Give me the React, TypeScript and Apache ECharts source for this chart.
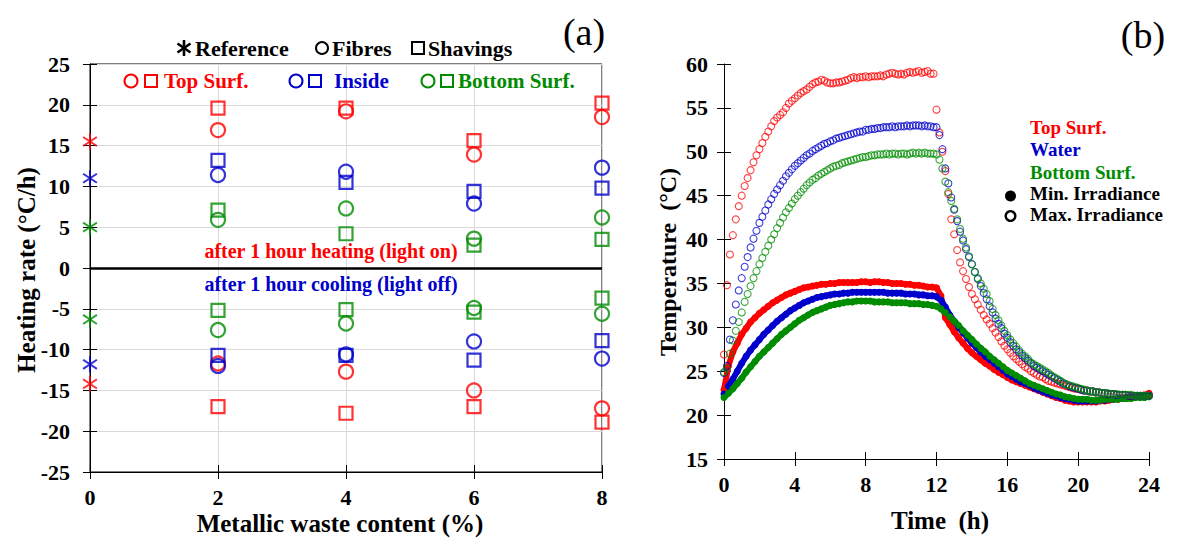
import React, { useEffect, useRef } from "react";
import * as echarts from "echarts";

const SERIF = "'Liberation Serif', 'Times New Roman', Times, serif";
const RED = "#ff0000";
const BLUE = "#0000cc";
const GREEN = "#008c00";

// ---------------- Panel (a): heating / cooling rates ----------------
const referenceContent = [0];
const wasteContent = [2, 4, 6, 8];
const xTicksA = [0, 2, 4, 6, 8];

const refTopHeating = [15.5];
const refInsideHeating = [11.0];
const refBottomHeating = [5.0];
const refTopCooling = [-14.2];
const refInsideCooling = [-11.8];
const refBottomCooling = [-6.3];

const fibresTopHeating = [16.9, 19.2, 13.9, 18.5];
const fibresInsideHeating = [11.4, 11.8, 7.9, 12.3];
const fibresBottomHeating = [5.9, 7.3, 3.6, 6.2];
const fibresTopCooling = [-11.7, -12.7, -15.0, -17.2];
const fibresInsideCooling = [-12.0, -10.6, -9.0, -11.1];
const fibresBottomCooling = [-7.6, -6.8, -4.9, -5.6];

const shavingsTopHeating = [19.6, 19.6, 15.6, 20.2];
const shavingsInsideHeating = [13.2, 10.5, 9.4, 9.8];
const shavingsBottomHeating = [7.1, 4.2, 2.8, 3.5];
const shavingsTopCooling = [-17.0, -17.8, -17.0, -18.9];
const shavingsInsideCooling = [-10.7, -10.7, -11.3, -8.9];
const shavingsBottomCooling = [-5.2, -5.1, -5.4, -3.7];

// ---------------- Panel (b): temperature vs time ----------------
const FILLED_STEP_H = 0.25; // min. irradiance sampling (h)
const HOLLOW_STEP_H = 1 / 6; // max. irradiance sampling (h)

const minTop = [
  22.9, 25.6, 27.2, 28.2, 29.2, 29.9, 30.6, 31.1, 31.6, 32.0,
  32.4, 32.8, 33.1, 33.4, 33.7, 33.9, 34.1, 34.3, 34.5, 34.6,
  34.7, 34.8, 34.9, 34.9, 35.0, 35.0, 35.1, 35.1, 35.1, 35.1,
  35.1, 35.2, 35.2, 35.1, 35.2, 35.2, 35.1, 35.1, 35.0, 35.0,
  35.0, 34.9, 34.9, 34.8, 34.8, 34.7, 34.6, 34.6, 34.5, 33.6,
  31.1, 30.3, 29.5, 28.8, 28.2, 27.6, 27.1, 26.7, 26.3, 25.9,
  25.6, 25.2, 24.9, 24.6, 24.3, 24.0, 23.8, 23.6, 23.4, 23.2,
  23.0, 22.8, 22.6, 22.4, 22.2, 22.0, 21.9, 21.7, 21.6, 21.5,
  21.5, 21.5, 21.5, 21.5, 21.5, 21.6, 21.6, 21.7, 21.8, 21.8,
  21.9, 22.0, 22.0, 22.1, 22.2, 22.3, 22.5,
];
const minWater = [
  22.4, 23.3, 24.1, 25.0, 25.9, 26.7, 27.4, 28.0, 28.6, 29.2,
  29.7, 30.2, 30.7, 31.1, 31.5, 31.9, 32.2, 32.5, 32.8, 33.0,
  33.2, 33.4, 33.5, 33.6, 33.7, 33.8, 33.8, 33.9, 33.9, 34.0,
  34.0, 34.0, 34.0, 34.0, 34.0, 34.0, 34.0, 33.9, 33.9, 33.9,
  33.9, 33.8, 33.8, 33.8, 33.7, 33.7, 33.6, 33.6, 33.5, 33.1,
  32.3, 31.4, 30.7, 30.0, 29.4, 28.8, 28.2, 27.7, 27.2, 26.7,
  26.3, 25.9, 25.5, 25.1, 24.7, 24.4, 24.1, 23.8, 23.6, 23.4,
  23.1, 22.9, 22.7, 22.5, 22.3, 22.2, 22.0, 21.9, 21.8, 21.7,
  21.6, 21.6, 21.6, 21.6, 21.6, 21.7, 21.7, 21.8, 21.8, 21.9,
  21.9, 22.0, 22.0, 22.1, 22.2, 22.2, 22.3,
];
const minBottom = [
  22.0, 22.5, 23.0, 23.6, 24.2, 24.9, 25.5, 26.1, 26.7, 27.2,
  27.7, 28.2, 28.7, 29.2, 29.6, 30.0, 30.4, 30.8, 31.1, 31.4,
  31.7, 31.9, 32.1, 32.3, 32.5, 32.6, 32.7, 32.8, 32.9, 32.9,
  33.0, 33.0, 33.0, 33.0, 32.9, 32.9, 32.9, 32.9, 32.8, 32.8,
  32.8, 32.8, 32.7, 32.7, 32.7, 32.6, 32.6, 32.5, 32.4, 32.1,
  31.7, 31.2, 30.7, 30.2, 29.6, 29.1, 28.6, 28.1, 27.6, 27.2,
  26.7, 26.3, 25.9, 25.5, 25.1, 24.8, 24.5, 24.2, 23.9, 23.6,
  23.4, 23.2, 23.0, 22.8, 22.6, 22.4, 22.3, 22.1, 22.0, 21.9,
  21.8, 21.8, 21.8, 21.7, 21.7, 21.7, 21.8, 21.8, 21.8, 21.8,
  21.9, 21.9, 21.9, 22.0, 22.0, 22.0, 22.1,
];

const maxTop = [
  26.9, 34.8, 38.3, 40.5, 42.3, 43.8, 45.0, 46.1, 47.0, 47.9,
  48.8, 49.6, 50.3, 51.0, 51.7, 52.3, 52.9, 53.5, 53.9, 54.2,
  54.5, 55.0, 55.5, 55.8, 56.1, 56.4, 56.7, 56.9, 57.1, 57.4,
  57.7, 57.9, 58.0, 58.2, 58.1, 57.9, 57.8, 57.8, 57.9, 57.9,
  58.0, 58.1, 58.2, 58.4, 58.5, 58.4, 58.5, 58.5, 58.6, 58.5,
  58.6, 58.6, 58.6, 58.7, 58.6, 58.8, 58.9, 59.0, 58.9, 58.8,
  58.9, 58.8, 59.0, 59.1, 59.0, 59.1, 59.2, 59.0, 59.1, 59.2,
  58.9, 58.9, 54.8, 52.2, 50.0, 47.8, 45.2, 42.3, 40.6, 38.8,
  37.4, 36.4, 35.5, 34.6, 33.8, 33.2, 32.6, 32.0, 31.4, 30.9,
  30.4, 29.9, 29.4, 28.9, 28.4, 27.9, 27.5, 27.1, 26.7, 26.4,
  26.1, 25.8, 25.5, 25.3, 25.0, 24.8, 24.6, 24.4, 24.3, 24.1,
  23.9, 23.8, 23.7, 23.6, 23.5, 23.4, 23.3, 23.2, 23.1, 23.0,
  23.0, 22.9, 22.8, 22.8, 22.7, 22.7, 22.6, 22.6, 22.5, 22.5,
  22.4, 22.4, 22.4, 22.3, 22.3, 22.3, 22.3, 22.2, 22.2, 22.2,
  22.2, 22.2, 22.2, 22.2, 22.3,
];
const maxWater = [
  24.8, 25.6, 28.6, 30.8, 32.6, 34.2, 35.6, 36.9, 38.0, 39.1,
  40.1, 41.0, 41.9, 42.6, 43.3, 44.0, 44.6, 45.2, 45.7, 46.2,
  46.7, 47.2, 47.6, 48.0, 48.4, 48.7, 49.0, 49.3, 49.6, 49.8,
  50.1, 50.3, 50.5, 50.7, 50.9, 51.0, 51.2, 51.3, 51.5, 51.6,
  51.7, 51.8, 51.9, 52.0, 52.1, 52.2, 52.3, 52.3, 52.5, 52.5,
  52.6, 52.6, 52.7, 52.7, 52.8, 52.8, 52.8, 52.9, 52.8, 52.9,
  52.9, 52.9, 53.0, 52.9, 53.0, 53.0, 53.0, 52.9, 53.0, 52.9,
  52.9, 52.8, 52.8, 51.9, 50.3, 48.1, 46.4, 44.8, 43.4, 42.1,
  40.9, 39.9, 38.9, 38.0, 37.2, 36.3, 35.5, 34.7, 33.9, 33.2,
  32.4, 31.7, 31.0, 30.4, 29.9, 29.3, 28.8, 28.3, 27.9, 27.5,
  27.2, 26.8, 26.5, 26.2, 25.9, 25.6, 25.4, 25.2, 25.0, 24.8,
  24.6, 24.4, 24.2, 24.0, 23.8, 23.6, 23.5, 23.3, 23.2, 23.1,
  23.0, 22.9, 22.8, 22.8, 22.7, 22.7, 22.6, 22.6, 22.5, 22.5,
  22.4, 22.4, 22.4, 22.3, 22.3, 22.3, 22.3, 22.2, 22.2, 22.2,
  22.2, 22.2, 22.2, 22.2, 22.2,
];
const maxBottom = [
  24.9, 25.3, 27.0, 28.5, 29.6, 30.6, 31.7, 32.9, 33.8, 34.7,
  35.6, 36.4, 37.2, 37.9, 38.6, 39.3, 40.0, 40.6, 41.3, 41.9,
  42.5, 43.1, 43.6, 44.1, 44.6, 45.0, 45.4, 45.8, 46.2, 46.5,
  46.8, 47.0, 47.3, 47.5, 47.7, 47.9, 48.1, 48.3, 48.4, 48.5,
  48.7, 48.8, 48.9, 49.0, 49.1, 49.2, 49.3, 49.4, 49.4, 49.5,
  49.6, 49.6, 49.7, 49.7, 49.7, 49.8, 49.7, 49.8, 49.8, 49.7,
  49.8, 49.8, 49.7, 49.8, 49.9, 49.8, 49.9, 49.8, 49.9, 49.8,
  49.8, 49.8, 49.7, 49.1, 48.1, 46.6, 45.4, 44.4, 43.5, 42.3,
  41.2, 40.1, 39.1, 38.1, 37.2, 36.3, 35.6, 35.0, 34.4, 33.8,
  33.0, 32.1, 31.4, 30.8, 30.2, 29.6, 29.1, 28.6, 28.2, 27.8,
  27.4, 27.0, 26.7, 26.4, 26.0, 25.8, 25.6, 25.4, 25.2, 25.0,
  24.8, 24.5, 24.3, 24.1, 23.9, 23.7, 23.5, 23.4, 23.3, 23.2,
  23.1, 23.0, 22.9, 22.8, 22.7, 22.7, 22.6, 22.6, 22.5, 22.5,
  22.5, 22.4, 22.4, 22.4, 22.3, 22.3, 22.3, 22.3, 22.3, 22.2,
  22.2, 22.2, 22.2, 22.2, 22.2,
];

// ---------------- helpers ----------------
const STAR_PATH =
  "path://M-1.2,-10L1.2,-10L1.2,10L-1.2,10Z" +
  "M-8.884,-4.716L-7.516,-6.684L8.884,4.716L7.516,6.684Z" +
  "M8.884,-4.716L-7.516,6.684L-8.884,4.716L7.516,-6.684Z";

const pairs = (xs: number[], ys: number[]) => xs.map((x, i) => [x, ys[i]]);
const timed = (ys: number[], step: number) =>
  ys.map((y, i) => [Math.round(i * step * 10000) / 10000, y]);

const tickFont = { color: "#000", fontFamily: SERIF, fontWeight: "bold", fontSize: 22 };

function markerSeriesA(
  name: string,
  symbol: string,
  color: string,
  xs: number[],
  heat: number[],
  cool: number[],
  size: number | number[],
  hollow: boolean
) {
  return {
    name,
    type: "scatter",
    xAxisIndex: 0,
    yAxisIndex: 0,
    symbol,
    symbolSize: size,
    data: [...pairs(xs, heat), ...pairs(xs, cool)],
    itemStyle: hollow
      ? { color: "rgba(0,0,0,0)", borderColor: color, borderWidth: 2.2 }
      : { color },
    z: 5,
  };
}

// min. irradiance: dense filled dots forming a thick band
function minSeries(name: string, ys: number[], color: string) {
  return {
    name,
    type: "line",
    xAxisIndex: 2,
    yAxisIndex: 2,
    symbol: "circle",
    symbolSize: 7,
    showSymbol: true,
    data: timed(ys, FILLED_STEP_H),
    lineStyle: { color, width: 6, cap: "round", join: "round" },
    itemStyle: { color },
    z: 3,
  };
}
// max. irradiance: hollow circles
function maxSeries(name: string, ys: number[], color: string) {
  return {
    name,
    type: "scatter",
    xAxisIndex: 2,
    yAxisIndex: 2,
    symbol: "circle",
    symbolSize: 7,
    data: timed(ys, HOLLOW_STEP_H),
    itemStyle: { color: "rgba(0,0,0,0)", borderColor: color, borderWidth: 1.1, opacity: 0.75 },
    z: 4,
  };
}

function text(t: string, x: number, y: number, size: number, fill = "#000", align = "left", bold = true, rotation = 0) {
  return {
    type: "text",
    x,
    y,
    rotation,
    silent: true,
    z: 20,
    style: {
      text: t,
      fill,
      font: `${bold ? "bold " : ""}${size}px ${SERIF}`,
      textAlign: align,
      textVerticalAlign: "middle",
    },
  };
}
const ring = (cx: number, cy: number, r: number, stroke: string, lw = 2) => ({
  type: "circle",
  silent: true,
  z: 20,
  shape: { cx, cy, r },
  style: { fill: "none", stroke, lineWidth: lw },
});
const dot = (cx: number, cy: number, r: number, fill: string) => ({
  type: "circle",
  silent: true,
  z: 20,
  shape: { cx, cy, r },
  style: { fill },
});
const square = (x: number, y: number, s: number, stroke: string) => ({
  type: "rect",
  silent: true,
  z: 20,
  shape: { x, y, width: s, height: s },
  style: { fill: "none", stroke, lineWidth: 2 },
});
const seg = (x1: number, y1: number, x2: number, y2: number) => ({
  type: "line",
  silent: true,
  z: 20,
  shape: { x1, y1, x2, y2 },
  style: { stroke: "#000", lineWidth: 2.6 },
});

function buildOption() {
  const axisBase = (gridIndex: number, min: number, max: number, interval: number, inner: boolean, split: boolean) => ({
    gridIndex,
    type: "value",
    min,
    max,
    interval,
    axisLine: { show: !inner, onZero: false, lineStyle: { color: "#000", width: 1 } },
    axisTick: { show: true, inside: inner, length: 7, lineStyle: { color: "#000", width: 1 } },
    axisLabel: inner ? { show: false } : { ...tickFont, margin: 14 },
    splitLine: { show: split && !inner, lineStyle: { color: "#d9d9d9", width: 1 } },
  });

  const xAxis = [
    { ...axisBase(0, xTicksA[0], xTicksA[xTicksA.length - 1], 2, false, true), position: "bottom" },
    { ...axisBase(0, 0, 8, 2, true, false), position: "bottom" },
    { ...axisBase(1, 0, 24, 4, false, false), position: "bottom" },
    { ...axisBase(1, 0, 24, 4, true, false), position: "bottom" },
  ];
  const yAxis = [
    { ...axisBase(0, -25, 25, 5, false, true), position: "left", axisLabel: { ...tickFont, margin: 20 } },
    { ...axisBase(0, -25, 25, 5, true, false), position: "left" },
    { ...axisBase(1, 15, 60, 5, false, false), position: "left", axisLabel: { ...tickFont, margin: 16 } },
    { ...axisBase(1, 15, 60, 5, true, false), position: "left" },
  ];

  const seriesA: any[] = [
    markerSeriesA("Reference Top Surf.", STAR_PATH, RED, referenceContent, refTopHeating, refTopCooling, [15, 16], false),
    markerSeriesA("Reference Inside", STAR_PATH, BLUE, referenceContent, refInsideHeating, refInsideCooling, [15, 16], false),
    markerSeriesA("Reference Bottom Surf.", STAR_PATH, GREEN, referenceContent, refBottomHeating, refBottomCooling, [15, 16], false),
    markerSeriesA("Fibres Top Surf.", "circle", RED, wasteContent, fibresTopHeating, fibresTopCooling, 14, true),
    markerSeriesA("Fibres Inside", "circle", BLUE, wasteContent, fibresInsideHeating, fibresInsideCooling, 14, true),
    markerSeriesA("Fibres Bottom Surf.", "circle", GREEN, wasteContent, fibresBottomHeating, fibresBottomCooling, 14, true),
    markerSeriesA("Shavings Top Surf.", "rect", RED, wasteContent, shavingsTopHeating, shavingsTopCooling, 13, true),
    markerSeriesA("Shavings Inside", "rect", BLUE, wasteContent, shavingsInsideHeating, shavingsInsideCooling, 13, true),
    markerSeriesA("Shavings Bottom Surf.", "rect", GREEN, wasteContent, shavingsBottomHeating, shavingsBottomCooling, 13, true),
  ];
  seriesA[0].markLine = {
    silent: true,
    symbol: ["none", "none"],
    label: { show: false },
    lineStyle: { color: "#000", width: 2.6, type: "solid" },
    data: [{ yAxis: 0 }],
    z: 4,
  };

  const seriesB = [
    minSeries("Top Surf. (min.)", minTop, RED),
    minSeries("Water (min.)", minWater, BLUE),
    minSeries("Bottom Surf. (min.)", minBottom, GREEN),
    maxSeries("Top Surf. (max.)", maxTop, RED),
    maxSeries("Water (max.)", maxWater, BLUE),
    maxSeries("Bottom Surf. (max.)", maxBottom, GREEN),
  ];

  const graphic = [
    text("(a)", 584, 32, 38, "#000", "center", false),
    text("(b)", 1143, 35, 38, "#000", "center", false),
    // legend row 1 (panel a)
    seg(184, 40, 184, 56),
    seg(177.5, 43.5, 190.5, 52.5),
    seg(190.5, 43.5, 177.5, 52.5),
    text("Reference", 195, 48, 22),
    ring(322, 48, 6, "#000"),
    text("Fibres", 332, 48, 22),
    square(412, 42, 12, "#000"),
    text("Shavings", 428, 48, 22),
    // legend row 2 (panel a)
    ring(131, 81, 6.5, RED),
    square(145, 75, 12, RED),
    text("Top Surf.", 164, 81, 21, RED),
    ring(296, 81, 6.5, BLUE),
    square(309, 75, 12, BLUE),
    text("Inside", 334, 81, 21, BLUE),
    ring(428, 81, 6.5, GREEN),
    square(441, 75, 12, GREEN),
    text("Bottom Surf.", 458, 81, 21, GREEN),
    // annotations
    text("after 1 hour heating (light on)", 331, 251, 20, RED, "center"),
    text("after 1 hour cooling (light off)", 331, 284, 20, BLUE, "center"),
    // axis titles
    text("Heating rate (°C/h)", 26, 270, 25, "#000", "center", true, Math.PI / 2),
    text("Metallic waste content (%)", 340, 523, 25, "#000", "center"),
    text("Temperature  (°C)", 668, 262, 24, "#000", "center", true, Math.PI / 2),
    text("Time  (h)", 940, 520, 25, "#000", "center"),
    // legend (panel b)
    text("Top Surf.", 1030, 127, 19, RED),
    text("Water", 1030, 149, 19, BLUE),
    text("Bottom Surf.", 1030, 172, 19, GREEN),
    dot(1010.5, 196, 5.5, "#000"),
    text("Min. Irradiance", 1030, 193, 19),
    ring(1010.5, 216, 4.8, "#000", 2.4),
    text("Max. Irradiance", 1030, 214, 19),
  ];

  return {
    animation: false,
    backgroundColor: "#ffffff",
    textStyle: { fontFamily: SERIF },
    grid: [
      { left: 90, top: 64, width: 512, height: 408, show: true, borderColor: "#000", borderWidth: 1, backgroundColor: "transparent" },
      { left: 724, top: 64, width: 425, height: 395, show: false },
    ],
    xAxis,
    yAxis,
    series: [...seriesA, ...seriesB],
    graphic,
  };
}

export default function App() {
  const ref = useRef<HTMLDivElement>(null);
  useEffect(() => {
    document.body.style.margin = "0";
    const chart = echarts.init(ref.current as HTMLDivElement, undefined, { renderer: "svg" });
    chart.setOption(buildOption() as any);
    return () => chart.dispose();
  }, []);
  return <div ref={ref} style={{ width: 1177, height: 544 }} />;
}
